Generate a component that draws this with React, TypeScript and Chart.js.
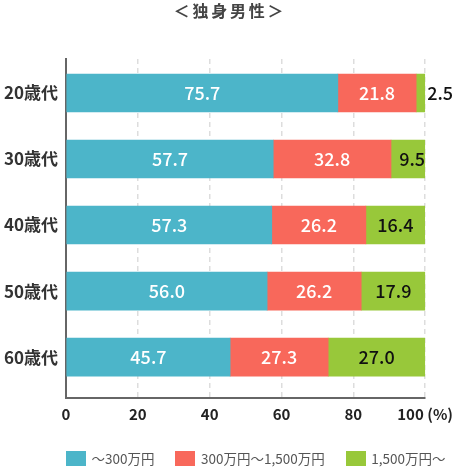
import { useEffect, useRef } from "react";
import { Chart, registerables } from "chart.js";
import type { Plugin } from "chart.js";

Chart.register(...registerables);

const title = "＜独身男性＞";
const categories = ["20歳代", "30歳代", "40歳代", "50歳代", "60歳代"];
const seriesNames = ["～300万円", "300万円～1,500万円", "1,500万円～"];
const under300 = [75.7, 57.7, 57.3, 56.0, 45.7];
const from300to1500 = [21.8, 32.8, 26.2, 26.2, 27.3];
const over1500 = [2.5, 9.5, 16.4, 17.9, 27.0];
const xTicks = [0, 20, 40, 60, 80, 100];

const seriesValues = [under300, from300to1500, over1500];
const colors = ["#4cb5c9", "#f8685b", "#98c83a"];
const labelColors = ["#ffffff", "#ffffff", "#111111"];

const FONT = "'Noto Sans CJK JP', 'Noto Sans', sans-serif";
// category index range on the y axis (reversed), leaves a bit more room below the last bar
const Y_MIN = -0.515;
const Y_MAX = 4.62;

// value labels: centered in the segment, pushed to the bar end or outside when narrow
const valueLabels: Plugin<"bar"> = {
  id: "valueLabels",
  afterDatasetsDraw(chart) {
    const { ctx } = chart;
    ctx.save();
    ctx.font = `500 18px ${FONT}`;
    ctx.textBaseline = "middle";
    chart.data.datasets.forEach((_, di) => {
      const meta = chart.getDatasetMeta(di);
      meta.data.forEach((bar, i) => {
        const { x, y, base } = bar.getProps(["x", "y", "base"], true) as any;
        const text = seriesValues[di][i].toFixed(1);
        const tw = ctx.measureText(text).width;
        const w = x - base;
        if (w >= tw + 16) {
          ctx.fillStyle = labelColors[di];
          ctx.textAlign = "center";
          ctx.fillText(text, (x + base) / 2, y);
        } else if (w >= tw) {
          ctx.fillStyle = labelColors[di];
          ctx.textAlign = "right";
          ctx.fillText(text, x, y);
        } else {
          ctx.fillStyle = "#111111";
          ctx.textAlign = "left";
          ctx.fillText(text, x + 2, y);
        }
      });
    });
    ctx.restore();
  },
};

const App = () => {
  const canvasRef = useRef<HTMLCanvasElement | null>(null);
  const chartRef = useRef<Chart | null>(null);

  useEffect(() => {
    document.body.style.margin = "0";
    if (!canvasRef.current) return;
    if (chartRef.current) chartRef.current.destroy();

    chartRef.current = new Chart(canvasRef.current, {
      type: "bar",
      data: {
        datasets: seriesNames.map((name, di) => ({
          label: name,
          data: seriesValues[di].map((v, i) => ({ x: v, y: i })),
          backgroundColor: colors[di],
          borderWidth: 0,
          barThickness: 38,
        })),
      },
      options: {
        indexAxis: "y",
        animation: false,
        responsive: false,
        maintainAspectRatio: false,
        layout: {
          autoPadding: false,
          padding: { top: 59, right: 34, bottom: 43, left: 0 },
        },
        plugins: {
          legend: { display: false },
          title: { display: false },
          tooltip: { enabled: false },
        },
        scales: {
          x: {
            type: "linear",
            stacked: true,
            min: 0,
            max: 100,
            afterBuildTicks: (axis) => {
              axis.ticks = xTicks.map((v) => ({ value: v }));
            },
            afterFit: (axis) => {
              axis.height = 30;
            },
            ticks: {
              padding: 7,
              color: "#222222",
              font: { family: FONT, size: 15, weight: "bold" },
              callback: (v) => (Number(v) === 100 ? "100 (%)" : String(v)),
            },
            grid: {
              color: (c) => (c.tick && c.tick.value === 0 ? "rgba(0,0,0,0)" : "#dddddd"),
              lineWidth: 1.5,
              drawTicks: false,
            },
            border: { color: "#666666", width: 2, dash: [5, 4] },
          },
          y: {
            type: "linear",
            stacked: true,
            reverse: true,
            offset: false,
            min: Y_MIN,
            max: Y_MAX,
            afterBuildTicks: (axis) => {
              axis.ticks = categories.map((_, i) => ({ value: i }));
            },
            afterFit: (axis) => {
              axis.width = 66;
            },
            ticks: {
              padding: 8,
              color: "#333333",
              font: { family: FONT, size: 17, weight: "bold" },
              callback: (v) => categories[Number(v)] ?? "",
            },
            grid: { display: false, drawTicks: false },
            border: { color: "#666666", width: 2 },
          },
        },
      },
      plugins: [valueLabels],
    });

    return () => {
      if (chartRef.current) {
        chartRef.current.destroy();
        chartRef.current = null;
      }
    };
  }, []);

  return (
    <div style={{ position: "relative", width: 460, height: 471, overflow: "hidden", fontFamily: FONT }}>
      <canvas ref={canvasRef} width={460} height={471} style={{ display: "block" }} />
      <div
        style={{
          position: "absolute",
          top: 0,
          left: 0,
          width: 460,
          textAlign: "center",
          fontSize: 16,
          lineHeight: "20px",
          fontWeight: "bold",
          letterSpacing: "2.8px",
          color: "#444444",
        }}
      >
        {title}
      </div>
      <div
        style={{
          position: "absolute",
          top: 451,
          left: 66,
          display: "flex",
          alignItems: "center",
          fontSize: 13.5,
          lineHeight: "15px",
          color: "#555555",
          whiteSpace: "nowrap",
        }}
      >
        {seriesNames.map((name, di) => (
          <div key={name} style={{ display: "flex", alignItems: "center", marginRight: 21 }}>
            <span style={{ width: 20, height: 15, background: colors[di], marginRight: 5.5 }} />
            <span>{name}</span>
          </div>
        ))}
      </div>
    </div>
  );
};

export default App;
